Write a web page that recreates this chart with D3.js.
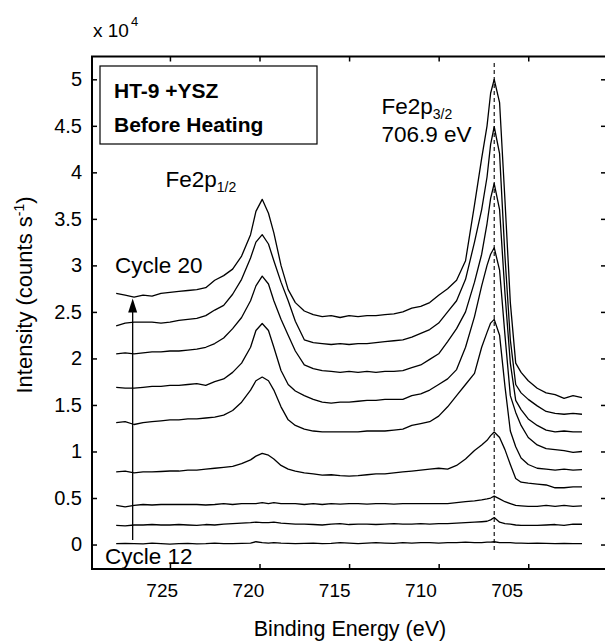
<!DOCTYPE html>
<html><head><meta charset="utf-8">
<script src="https://cdn.jsdelivr.net/npm/d3@7"></script>
<style>html,body{margin:0;padding:0;background:#fff;} svg{display:block;font-family:"Liberation Sans",Arial,Helvetica,sans-serif;}</style>
</head><body><svg id="chart" width="605" height="643"></svg>
<script>
// Binding energy grid (eV)
const energy = [728,727.5,727,726.5,726,725.5,725,724.5,724,723.5,
  723,722.5,722,721.5,721,720.5,720.2,719.85,719.5,719.2,
  718.8,718.4,718,717.5,717,716.5,716,715.5,715,714.5,
  714,713.5,713,712.5,712,711.5,711,710.5,710,709.5,
  709,708.5,708,707.6,707.3,707.1,706.9,706.6,706.3,706,
  705.7,705.4,705,704.5,704,703.5,703,702.5,702];

// Intensities (x 10^4 counts/s), cycles 12..20
const cycle12 = [0.01,0.012,0.01,0.008,0.015,0.01,0.005,0.01,0.012,0.008,
  0.01,0.015,0.01,0.01,0.012,0.015,0.03,0.02,0.015,0.02,
  0.015,0.012,0.01,0.012,0.015,0.01,0.012,0.02,0.015,0.01,
  0.015,0.02,0.015,0.012,0.02,0.015,0.02,0.02,0.015,0.02,
  0.02,0.025,0.02,0.02,0.025,0.025,0.03,0.02,0.02,0.02,
  0.015,0.015,0.012,0.015,0.012,0.01,0.012,0.01,0.01];
const cycle13 = [0.205,0.20,0.21,0.21,0.215,0.21,0.21,0.215,0.21,0.205,
  0.215,0.21,0.22,0.225,0.23,0.235,0.24,0.235,0.235,0.24,
  0.23,0.225,0.22,0.22,0.215,0.21,0.22,0.225,0.215,0.22,
  0.22,0.215,0.22,0.225,0.22,0.22,0.225,0.22,0.225,0.225,
  0.23,0.235,0.24,0.245,0.25,0.265,0.29,0.24,0.225,0.22,
  0.21,0.205,0.205,0.205,0.21,0.215,0.205,0.22,0.218];
const cycle14 = [0.42,0.405,0.42,0.43,0.425,0.43,0.43,0.43,0.43,0.43,
  0.425,0.43,0.44,0.43,0.44,0.44,0.44,0.45,0.44,0.45,
  0.44,0.44,0.44,0.43,0.44,0.43,0.44,0.435,0.44,0.44,
  0.435,0.44,0.44,0.435,0.44,0.44,0.44,0.44,0.44,0.44,
  0.45,0.46,0.47,0.48,0.49,0.50,0.52,0.49,0.46,0.44,
  0.42,0.415,0.41,0.41,0.42,0.41,0.42,0.41,0.415];
const cycle15 = [0.78,0.79,0.77,0.78,0.78,0.785,0.79,0.79,0.80,0.80,
  0.81,0.82,0.83,0.84,0.87,0.91,0.95,0.98,0.96,0.92,
  0.85,0.81,0.79,0.77,0.76,0.745,0.75,0.74,0.735,0.74,
  0.75,0.76,0.76,0.77,0.78,0.79,0.80,0.81,0.82,0.81,
  0.85,0.92,1.01,1.07,1.12,1.17,1.21,1.15,1.02,0.86,
  0.71,0.67,0.66,0.65,0.64,0.61,0.61,0.62,0.62];
const cycle16 = [1.31,1.32,1.29,1.31,1.32,1.33,1.34,1.34,1.35,1.35,
  1.36,1.37,1.39,1.44,1.53,1.66,1.76,1.80,1.76,1.66,
  1.48,1.34,1.28,1.24,1.22,1.21,1.21,1.21,1.21,1.21,
  1.22,1.22,1.22,1.23,1.24,1.28,1.30,1.32,1.38,1.48,
  1.60,1.72,1.84,2.12,2.28,2.38,2.42,2.25,1.70,1.22,
  1.05,0.93,0.86,0.82,0.81,0.80,0.81,0.80,0.806];
const cycle17 = [1.69,1.68,1.68,1.69,1.70,1.70,1.71,1.71,1.72,1.73,
  1.71,1.75,1.78,1.85,1.95,2.12,2.30,2.376,2.30,2.12,
  1.87,1.72,1.65,1.60,1.56,1.53,1.52,1.53,1.53,1.54,
  1.55,1.55,1.56,1.56,1.56,1.60,1.62,1.66,1.72,1.78,
  1.88,2.12,2.45,2.78,3.00,3.12,3.19,2.95,2.25,1.60,
  1.42,1.28,1.15,1.07,1.03,1.02,1.01,0.99,1.00];
const cycle18 = [2.05,2.06,2.05,2.06,2.07,2.07,2.08,2.08,2.09,2.10,
  2.12,2.16,2.22,2.32,2.44,2.62,2.78,2.885,2.80,2.62,
  2.42,2.25,2.08,1.93,1.89,1.87,1.86,1.85,1.86,1.85,
  1.86,1.85,1.86,1.86,1.87,1.90,1.93,1.99,2.05,2.18,
  2.32,2.50,2.82,3.12,3.45,3.72,3.88,3.60,2.70,1.95,
  1.55,1.45,1.35,1.28,1.23,1.21,1.22,1.21,1.21];
const cycle19 = [2.35,2.38,2.39,2.39,2.39,2.38,2.39,2.41,2.42,2.43,
  2.46,2.52,2.57,2.69,2.85,3.08,3.25,3.33,3.23,3.05,
  2.82,2.62,2.40,2.20,2.17,2.16,2.15,2.16,2.15,2.16,
  2.16,2.17,2.18,2.19,2.20,2.23,2.27,2.31,2.38,2.50,
  2.62,2.85,3.25,3.60,3.95,4.30,4.49,4.20,3.10,2.20,
  1.72,1.63,1.56,1.49,1.43,1.41,1.40,1.41,1.40];
const cycle20 = [2.70,2.68,2.66,2.68,2.67,2.70,2.71,2.72,2.73,2.74,
  2.76,2.84,2.89,2.96,3.10,3.33,3.58,3.71,3.56,3.35,
  3.00,2.74,2.60,2.51,2.47,2.45,2.46,2.44,2.46,2.45,
  2.46,2.46,2.47,2.48,2.50,2.54,2.56,2.60,2.68,2.75,
  2.84,3.05,3.65,4.15,4.50,4.85,5.00,4.75,3.70,2.60,
  1.95,1.85,1.76,1.68,1.63,1.61,1.57,1.60,1.58];

const seriesList = [cycle12,cycle13,cycle14,cycle15,cycle16,cycle17,cycle18,cycle19,cycle20];
const xTickValues = [725,720,715,710,705];
const yTickValues = [0,0.5,1,1.5,2,2.5,3,3.5,4,4.5,5];
const peakEnergy = 706.9;
const arrowEnergy = 727.08;
const arrowFrom = 0.05, arrowTo = 2.645;

const svg = d3.select("#chart");
const L = 92, R = 606, T = 56.5, B = 569;
const x = d3.scaleLinear().domain([729.35, 700.66]).range([L, R]);
const y = d3.scaleLinear().domain([-0.263, 5.245]).range([B, T]);
// tick labels in the original are set on a slightly different spacing
const xLab = d3.scaleLinear().domain([725, 705]).range([161.7, 506.7]);

// curves
const line = d3.line().x((d,i)=>x(energy[i])).y(d=>y(d));
svg.append("g").selectAll("path").data(seriesList).join("path")
  .attr("d", line).attr("fill","none").attr("stroke","#000").attr("stroke-width",1.3)
  .attr("stroke-linejoin","round");

// dashed peak line
svg.append("line").attr("x1",x(peakEnergy)).attr("x2",x(peakEnergy))
  .attr("y1",63).attr("y2",552).attr("stroke","#000").attr("stroke-width",1.1)
  .attr("stroke-dasharray","4,3");

// arrow
const ax = x(arrowEnergy);
svg.append("line").attr("x1",ax).attr("x2",ax).attr("y1",y(arrowFrom)).attr("y2",y(arrowTo)+12)
  .attr("stroke","#000").attr("stroke-width",1.3);
svg.append("path").attr("d",`M${ax},${y(arrowTo)} L${ax-4.5},${y(arrowTo)+14} L${ax+4.5},${y(arrowTo)+14} Z`).attr("fill","#000");

// axes ticks
function clean(g){ g.select(".domain").remove(); g.selectAll("line").attr("stroke","#000").attr("stroke-width",1.5); }
svg.append("g").attr("transform",`translate(0,${B})`).call(d3.axisBottom(x).tickValues(xTickValues).tickSize(-5).tickFormat("")).call(clean);
svg.append("g").attr("transform",`translate(0,${T})`).call(d3.axisTop(x).tickValues(xTickValues).tickSize(-5).tickFormat("")).call(clean);
const yl = svg.append("g").attr("transform",`translate(${L},0)`).call(d3.axisLeft(y).tickValues(yTickValues).tickSize(-5).tickPadding(10).tickFormat(d=>String(d))).call(clean);
yl.selectAll("text").attr("font-size",20).attr("fill","#000").attr("font-family",null);
svg.append("g").attr("transform",`translate(${R},0)`).call(d3.axisRight(y).tickValues(yTickValues).tickSize(-5).tickFormat("")).call(clean);
const xl = svg.append("g").attr("transform",`translate(0,${B})`).call(d3.axisBottom(xLab).tickValues(xTickValues).tickSize(0).tickFormat(d=>String(d)));
xl.select(".domain").remove();
xl.selectAll("text").attr("y",28).attr("dy",null).attr("font-size",19).attr("fill","#000").attr("font-family",null);

// frame
svg.append("path").attr("d",`M${R},${T} L${L},${T} L${L},${B} L${R},${B}`).attr("fill","none").attr("stroke","#000").attr("stroke-width",2);

// legend box
svg.append("rect").attr("x",100).attr("y",66).attr("width",217).attr("height",78).attr("fill","none").attr("stroke","#000").attr("stroke-width",1.2);
svg.append("text").attr("x",114).attr("y",98).attr("font-size",21).attr("font-weight","bold").text("HT-9 +YSZ");
svg.append("text").attr("x",114).attr("y",131.5).attr("font-size",21).attr("font-weight","bold").text("Before Heating");

// annotations
const t1 = svg.append("text").attr("x",165.5).attr("y",187).attr("font-size",22.5);
t1.append("tspan").text("Fe2p");
t1.append("tspan").attr("font-size",14).attr("dy",5).text("1/2");
const t2 = svg.append("text").attr("x",381.5).attr("y",114).attr("font-size",22.5);
t2.append("tspan").text("Fe2p");
t2.append("tspan").attr("font-size",14).attr("dy",5).text("3/2");
svg.append("text").attr("x",381.5).attr("y",142).attr("font-size",22.5).text("706.9 eV");
svg.append("text").attr("x",115).attr("y",272.5).attr("font-size",22.5).text("Cycle 20");
svg.append("text").attr("x",105).attr("y",563.5).attr("font-size",22.5).text("Cycle 12");

// axis titles
svg.append("text").attr("x",350).attr("y",636).attr("text-anchor","middle").attr("font-size",21.5).text("Binding Energy (eV)");
const yt = svg.append("text").attr("transform","translate(32,295) rotate(-90)").attr("text-anchor","middle").attr("font-size",22);
yt.append("tspan").text("Intensity (counts s");
yt.append("tspan").attr("font-size",14).attr("dy",-8).text("-1");
yt.append("tspan").attr("dy",8).text(")");
const xm = svg.append("text").attr("x",93).attr("y",36.7).attr("font-size",19);
xm.append("tspan").text("x 10");
xm.append("tspan").attr("font-size",13).attr("dx",2).attr("dy",-11).text("4");
</script></body></html>
